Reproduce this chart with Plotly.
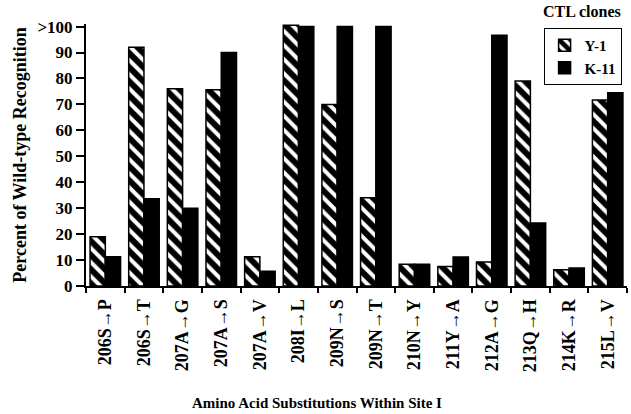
import plotly.graph_objects as go

# Substitutions at site I and percent of wild-type recognition per CTL clone
substitutions = ["206S→P", "206S→T", "207A→G", "207A→S", "207A→V", "208I→L", "209N→S",
                 "209N→T", "210N→Y", "211Y→A", "212A→G", "213Q→H", "214K→R", "215L→V"]
y1_values = [19, 92, 76, 75.7, 11.3, 100.5, 70, 34, 8.4, 7.5, 9.3, 79, 6.3, 71.7]
k11_values = [11.3, 33.6, 30, 90, 5.7, 100, 100, 100, 8.4, 11.2, 96.7, 24.3, 6.9, 74.5]
y_tick_values = [0, 10, 20, 30, 40, 50, 60, 70, 80, 90, 100]
y_tick_labels = ["0", "10", "20", "30", "40", "50", "60", "70", "80", "90", ">100"]

FONT = "Liberation Serif"

fig = go.Figure()
fig.add_trace(go.Bar(
    name="Y-1", x=substitutions, y=y1_values,
    marker=dict(color="white", line=dict(color="black", width=1.5),
                pattern=dict(shape="\\", fgcolor="black", bgcolor="white",
                             fgopacity=1, size=10, solidity=0.6)),
))
fig.add_trace(go.Bar(
    name="K-11", x=substitutions, y=k11_values,
    marker=dict(color="black", line=dict(color="black", width=1.5)),
))

fig.update_layout(
    width=631, height=414,
    margin=dict(l=86, r=4, t=24, b=128),
    paper_bgcolor="white", plot_bgcolor="white",
    barmode="group", bargap=0.21, bargroupgap=0,
    font=dict(family=FONT, color="black", size=16, weight="bold"),
    legend=dict(
        x=0.99, xanchor="right", y=0.985, yanchor="top",
        bordercolor="black", borderwidth=1, bgcolor="white",
        font=dict(family=FONT, size=15, weight="bold"),
        itemwidth=30, tracegroupgap=0,
    ),
    showlegend=True,
)

fig.update_xaxes(
    type="category", tickson="boundaries", ticks="outside", ticklen=5, tickwidth=1.5,
    tickcolor="black", showline=True, linecolor="black", linewidth=2,
    tickangle=-90, tickfont=dict(family=FONT, size=18, weight="bold"),
    ticklabelstandoff=4,
    showgrid=False, zeroline=False,
)
fig.update_yaxes(
    range=[0, 101], tickvals=y_tick_values, ticktext=y_tick_labels,
    ticks="outside", ticklen=8, tickwidth=1.5, tickcolor="black",
    showline=True, linecolor="black", linewidth=2,
    showgrid=False, zeroline=False,
    tickfont=dict(family=FONT, size=17, weight="bold"),
    title=dict(text="Percent of Wild-type Recognition", standoff=6,
               font=dict(family=FONT, size=18, weight="bold")),
)

# x-axis title
fig.add_annotation(
    text="Amino Acid Substitutions Within Site I", xref="paper", yref="paper",
    x=0.427, y=-0.447, xanchor="center", yanchor="middle", showarrow=False,
    font=dict(family=FONT, size=15, weight="bold"),
)
# legend heading
fig.add_annotation(
    text="CTL clones", xref="paper", yref="paper", x=0.993, y=1.0,
    xanchor="right", yanchor="bottom", showarrow=False, yshift=2,
    font=dict(family=FONT, size=16, weight="bold"),
)

fig.write_html("out.html")
